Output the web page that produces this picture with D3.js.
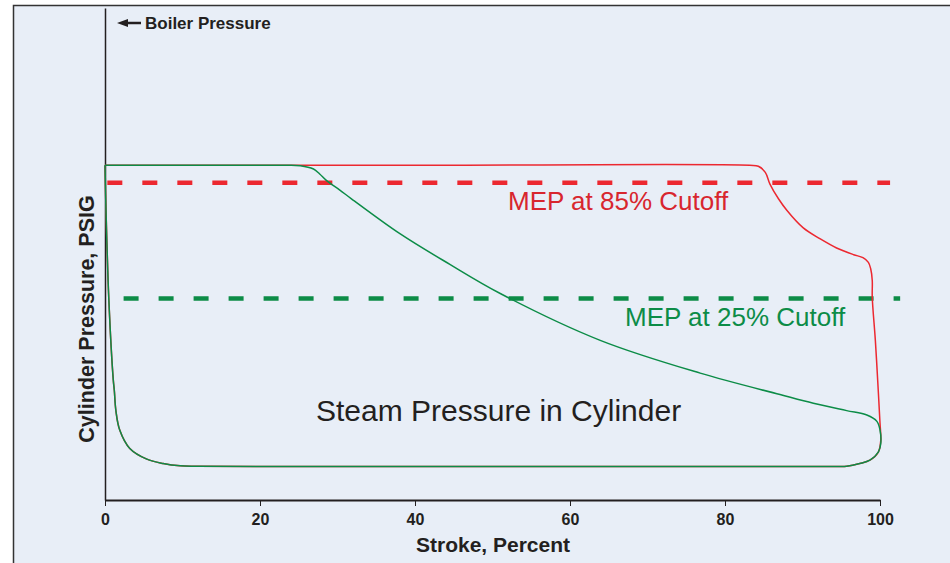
<!DOCTYPE html>
<html>
  <head>
    <meta charset="utf-8">
    <title>Steam pressure in cylinder</title>
    <script src="https://d3js.org/d3.v7.min.js"></script>
  </head>
  <body style="margin:0;background:#fff;">
    <style>
      text { font-family: "Liberation Sans", Arial, Helvetica, sans-serif; }
      .axis text { font-weight: bold; font-size: 16px; fill: #231f20; }
      .axis path, .axis line { stroke: #231f20; }
    </style>
    <div id="chart"></div>
    <script>
      // stroke (%) and cylinder pressure
      var stroke85 = [0, 40, 83.2, 84.3, 85.2, 85.8, 86.9, 88.0, 90.1, 92.3, 94.4, 96.6, 97.8, 98.5, 98.8, 99.0, 99.0,
        99.4, 99.7, 100.0, 100.1, 99.8, 98.7, 97.4, 95.7, 92, 75, 50, 25, 12, 9.7, 7.5, 5.4, 3.2, 1.9, 1.4, 1.2, 1.07, 0.5, 0.13, 0];
      var press85 = [100, 100, 100, 99.7, 97.9, 94.4, 90.0, 86.5, 81.3, 78.0, 75.3, 73.3, 72.4, 71.0, 69.1, 65.6, 60.6,
        47.7, 35.8, 23.0, 17.9, 14.4, 11.9, 10.9, 10.1, 10.0, 10.0, 10.0, 10.0, 10.1, 10.2, 10.9, 12.2, 15.4, 20.9, 26.8, 32.8, 35.8, 59.6, 86.5, 100];

      var stroke25 = [0, 12, 22.6, 25.2, 26.9, 27.7, 28.6, 30.3, 31.8, 38.1, 44.5, 51.0, 63.9, 76.8, 87.1, 91.4, 95.7,
        98.3, 99.6, 100.0, 100.1, 99.8, 98.7, 97.4, 95.7, 92, 75, 50, 25, 12, 9.7, 7.5, 5.4, 3.2, 1.9, 1.4, 1.2, 1.07, 0.5, 0.13, 0];
      var press25 = [100, 100, 100, 99.9, 98.9, 97.4, 95.4, 92.6, 90.0, 79.5, 70.4, 61.7, 47.7, 37.9, 31.5, 28.9, 26.7,
        25.4, 23.5, 20.9, 16.9, 14.4, 11.9, 10.9, 10.1, 10.0, 10.0, 10.0, 10.0, 10.1, 10.2, 10.9, 12.2, 15.4, 20.9, 26.8, 32.8, 35.8, 59.6, 86.5, 100];

      var mepLabels = ["MEP at 85% Cutoff", "MEP at 25% Cutoff"];
      var mepValues = [94.8, 60.2];
      var mepStart = [0.3, 2.4];
      var mepEnd = [101.3, 102.6];

      var xTicks = [0, 20, 40, 60, 80, 100];

      var width = 950, height = 563;
      var red = "#ec2830", green = "#0c8c47";

      var svg = d3.select("#chart").append("svg")
        .attr("width", width)
        .attr("height", height);

      svg.append("rect")
        .attr("x", 13.5).attr("y", 5.5)
        .attr("width", 1000).attr("height", 700)
        .attr("fill", "#e8eef7")
        .attr("stroke", "#333")
        .attr("stroke-width", 1.5);

      var x = d3.scaleLinear().domain([0, 100]).range([105, 880]);
      var y = d3.scaleLinear().domain([0, 147]).range([500, 8]);

      // axes
      svg.append("g")
        .attr("class", "axis")
        .attr("transform", "translate(0,500)")
        .call(d3.axisBottom(x).tickValues(xTicks).tickSize(6).tickSizeOuter(0).tickPadding(8))
        .call(g => g.select(".domain").attr("stroke-width", 2))
        .call(g => g.selectAll(".tick line").attr("stroke-width", 1));

      svg.append("g")
        .attr("class", "axis")
        .attr("transform", "translate(105,0)")
        .call(d3.axisLeft(y).tickValues([]).tickSizeOuter(0))
        .call(g => g.select(".domain").attr("stroke-width", 1.5));

      svg.append("text")
        .attr("x", 493).attr("y", 552)
        .attr("text-anchor", "middle")
        .style("font-weight", "bold").style("font-size", "21px").style("fill", "#231f20")
        .text("Stroke, Percent");

      svg.append("text")
        .attr("transform", "translate(94,319) rotate(-90)")
        .attr("text-anchor", "middle")
        .style("font-weight", "bold").style("font-size", "21.5px").style("fill", "#231f20")
        .text("Cylinder Pressure, PSIG");

      // boiler pressure marker
      svg.append("line")
        .attr("x1", 126).attr("x2", 141).attr("y1", 23).attr("y2", 23)
        .attr("stroke", "#231f20").attr("stroke-width", 2.5);
      svg.append("path")
        .attr("d", "M117,23 L128,19 L128,27 Z")
        .attr("fill", "#231f20");
      svg.append("text")
        .attr("x", 145).attr("y", 29)
        .style("font-weight", "bold").style("font-size", "17px").style("fill", "#231f20")
        .text("Boiler Pressure");

      // MEP lines
      var mepColors = [red, green];
      svg.selectAll(".mep")
        .data(mepValues)
        .enter().append("line")
          .attr("class", "mep")
          .attr("x1", (d, i) => x(mepStart[i]))
          .attr("x2", (d, i) => x(mepEnd[i]))
          .attr("y1", (d) => y(d))
          .attr("y2", (d) => y(d))
          .attr("stroke", (d, i) => mepColors[i])
          .attr("stroke-width", 4.5)
          .attr("stroke-dasharray", "15,20");

      var line = d3.line()
        .x((d) => x(d[0]))
        .y((d) => y(d[1]))
        .curve(d3.curveCatmullRom.alpha(0.5));

      svg.append("path")
        .datum(d3.zip(stroke85, press85))
        .attr("d", line)
        .attr("fill", "none")
        .attr("stroke", red)
        .attr("stroke-width", 1.5);

      svg.append("path")
        .datum(d3.zip(stroke25, press25))
        .attr("d", line)
        .attr("fill", "none")
        .attr("stroke", green)
        .attr("stroke-width", 1.5);

      // labels
      svg.append("text")
        .attr("x", 508).attr("y", 210)
        .style("font-size", "26px").style("fill", "#d8262e")
        .text(mepLabels[0]);
      svg.append("text")
        .attr("x", 625).attr("y", 326)
        .style("font-size", "26px").style("fill", green)
        .text(mepLabels[1]);
      svg.append("text")
        .attr("x", 316).attr("y", 421)
        .style("font-size", "30px").style("fill", "#231f20")
        .text("Steam Pressure in Cylinder");
    </script>
  </body>
</html>
